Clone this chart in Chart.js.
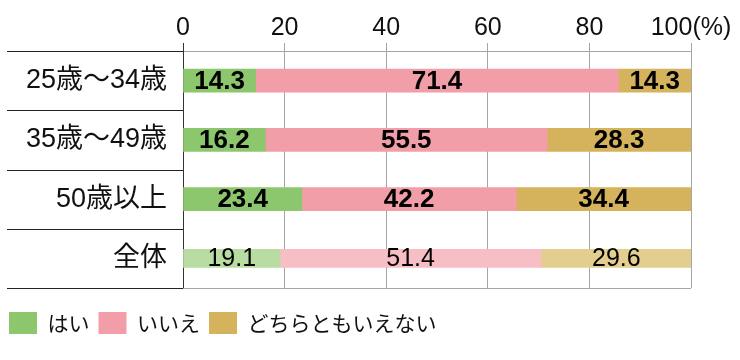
<!DOCTYPE html>
<html>
<head>
<meta charset="utf-8">
<script src="https://cdn.jsdelivr.net/npm/chart.js@4"></script>
<style>
  html, body { margin: 0; padding: 0; background: #fff; }
  #wrap { width: 740px; height: 360px; }
</style>
</head>
<body>
<div id="wrap"><canvas id="myChart" width="740" height="360"></canvas></div>
<script>
// data
const categories = ['25歳〜34歳', '35歳〜49歳', '50歳以上', '全体'];
const seriesNames = ['はい', 'いいえ', 'どちらともいえない'];
const yesValues = [14.3, 16.2, 23.4, 19.1];
const noValues = [71.4, 55.5, 42.2, 51.4];
const neitherValues = [14.3, 28.3, 34.4, 29.6];
const xTicks = [0, 20, 40, 60, 80, 100];

const colors = ['#8dc76d', '#f29ea9', '#d5b35c'];
const lightColors = ['#b9dca3', '#f7bec5', '#e3cd8f'];
const jpFont = "'Liberation Sans', 'Noto Sans CJK JP', sans-serif";

// the last row (全体) is drawn thinner and paler, so it gets its own datasets
const allValues = [yesValues, noValues, neitherValues];
const lastIdx = categories.length - 1;
const datasets = [];
allValues.forEach((vals, i) => {
    datasets.push({
        label: seriesNames[i],
        data: vals.map((v, j) => j < lastIdx ? v : null),
        backgroundColor: colors[i],
        barThickness: 23,
        stack: 's'
    });
});
allValues.forEach((vals, i) => {
    datasets.push({
        label: seriesNames[i] + '（全体）',
        data: vals.map((v, j) => j === lastIdx ? v : null),
        backgroundColor: lightColors[i],
        barThickness: 18,
        stack: 's'
    });
});

// row separators in the label column, bottom frame line and value labels
const decor = {
    id: 'decor',
    afterDatasetsDraw(chart) {
        const ctx = chart.ctx;
        ctx.save();
        ctx.fillStyle = '#000';
        ctx.textAlign = 'center';
        ctx.textBaseline = 'middle';
        chart.data.datasets.forEach((ds, di) => {
            const meta = chart.getDatasetMeta(di);
            meta.data.forEach((el, j) => {
                const v = ds.data[j];
                if (v == null) return;
                ctx.font = di < 3 ? "bold 26px 'Liberation Sans'" : "25px 'Liberation Sans'";
                ctx.fillText(v.toFixed(1), (el.x + el.base) / 2, el.y + 1);
            });
        });
        ctx.restore();
    },
    afterDraw(chart) {
        const ctx = chart.ctx;
        const a = chart.chartArea;
        const y = chart.scales.y;
        ctx.save();
        ctx.lineWidth = 1;
        ctx.strokeStyle = '#222';
        for (let i = 0; i <= categories.length; i++) {
            const yy = Math.round(y.getPixelForValue(i - 0.5)) + 0.5;
            ctx.beginPath();
            ctx.moveTo(7, yy);
            ctx.lineTo(a.left, yy);
            ctx.stroke();
        }
        ctx.strokeStyle = '#a6a6a6';
        const yb = Math.round(a.bottom) + 0.5;
        ctx.beginPath();
        ctx.moveTo(a.left, yb);
        ctx.lineTo(a.right, yb);
        ctx.stroke();
        ctx.restore();
    }
};

const ctx = document.getElementById('myChart').getContext('2d');
window.myChart = new Chart(ctx, {
    type: 'bar',
    data: { labels: categories, datasets: datasets },
    options: {
        indexAxis: 'y',
        responsive: false,
        animation: false,
        layout: { padding: { left: 0, right: 49, top: 0, bottom: 16 } },
        plugins: {
            legend: {
                position: 'bottom',
                align: 'start',
                labels: {
                    filter: item => item.datasetIndex < 3,
                    boxWidth: 28,
                    boxHeight: 22,
                    padding: 9,
                    color: '#111',
                    font: { family: "'Noto Sans CJK JP'", size: 21 }
                }
            },
            tooltip: { enabled: false }
        },
        scales: {
            x: {
                position: 'top',
                min: 0,
                max: 100,
                stacked: true,
                afterBuildTicks: s => { s.ticks = xTicks.map(v => ({ value: v })); },
                afterFit: s => { s.height = 51; },
                ticks: {
                    callback: v => v === 100 ? '100(%)' : String(v),
                    font: { family: "'Liberation Sans'", size: 25 },
                    color: '#111',
                    padding: 0,
                    maxRotation: 0,
                    autoSkip: false
                },
                grid: {
                    color: c => (c.tick && c.tick.value === 0) ? '#333' : '#a6a6a6',
                    tickLength: 8,
                    lineWidth: 1
                },
                border: { display: true, color: '#a6a6a6' }
            },
            xb: {
                type: 'linear',
                position: 'bottom',
                display: true,
                ticks: { display: false },
                grid: { display: false, drawTicks: false },
                border: { display: false },
                afterFit: s => { s.height = 15; }
            },
            y: {
                stacked: true,
                afterFit: s => { s.width = 183; },
                ticks: {
                    font: { family: jpFont, size: 27 },
                    color: '#111',
                    padding: 16
                },
                grid: { display: false, drawTicks: false },
                border: { display: true, color: '#333' }
            }
        }
    },
    plugins: [decor]
});
</script>
</body>
</html>
